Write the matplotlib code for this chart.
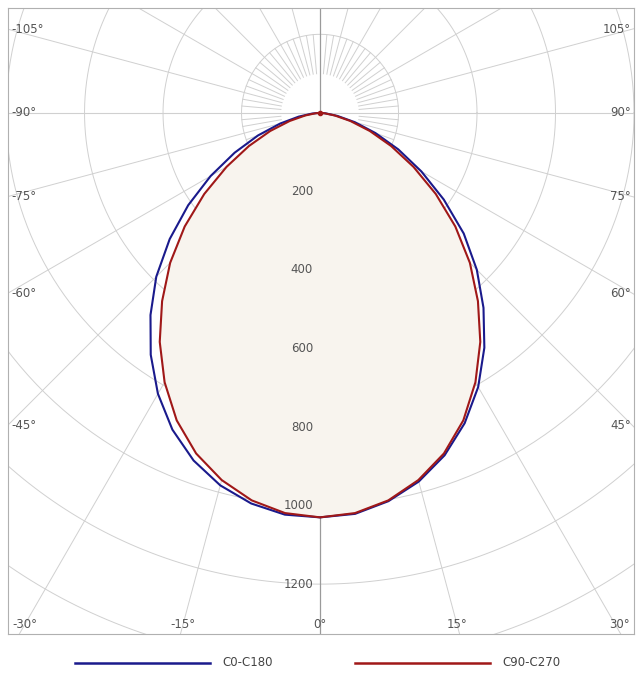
import numpy as np
import matplotlib
matplotlib.use("Agg")
import matplotlib.pyplot as plt

# luminous intensity (cd) vs angle from nadir (deg)
angles = [0, 5, 10, 15, 20, 25, 30, 35, 40, 45, 50, 55, 60, 65, 70, 75, 80, 85, 90]
c0_left = [1030, 1027, 1010, 982, 942, 890, 826, 752, 672, 590, 500, 410, 322, 240, 168, 105, 55, 20, 0]
c0_right = [1030, 1025, 1004, 972, 928, 872, 806, 730, 648, 565, 478, 385, 298, 220, 150, 92, 45, 14, 0]
c90 = [1030, 1023, 1002, 968, 923, 864, 792, 712, 626, 540, 450, 360, 275, 200, 135, 80, 38, 11, 0]
ring_values = [200, 400, 600, 800, 1000, 1200]
angle_ticks = [-105, -90, -75, -60, -45, -30, -15, 0, 15, 30, 45, 60, 75, 90, 105]

GRID = "#d0d0d0"
FILL = "#f8f4ee"
TXT = "#555555"


def xy(a_deg, r):
    a = np.radians(a_deg)
    return r * np.sin(a), -r * np.cos(a)


fig = plt.figure(figsize=(6.42, 6.89), dpi=100)
ax = fig.add_axes([8 / 642, 55 / 689, 626 / 642, 626 / 689])
x0, x1 = -795, 800
y0, y1 = -1327, 267
ax.set_xlim(x0, x1)
ax.set_ylim(y0, y1)
ax.set_xticks([])
ax.set_yticks([])
for s in ax.spines.values():
    s.set_color("#b0b0b0")

# rings
t = np.linspace(0, 2 * np.pi, 400)
for r in range(200, 2400, 200):
    ax.plot(r * np.cos(t), r * np.sin(t), color=GRID, lw=0.7, zorder=1)
# spokes
for a in range(0, 360, 15):
    xs, ys = xy(a, 100)
    xe, ye = xy(a, 3000)
    ax.plot([xs, xe], [ys, ye], color=GRID, lw=0.7, zorder=1)
for a in range(0, 360, 5):
    if a % 15:
        xs, ys = xy(a, 100)
        xe, ye = xy(a, 200)
        ax.plot([xs, xe], [ys, ye], color=GRID, lw=0.7, zorder=1)
ax.plot([0, 0], [y0, y1], color="#9a9a9a", lw=0.9, zorder=1)
ax.plot([x0, x1], [0, 0], color=GRID, lw=0.8, zorder=1)

# curves
ang_full = [-a for a in angles[::-1]] + angles[1:]
c0_full = c0_left[::-1] + c0_right[1:]
c90_full = c90[::-1] + c90[1:]
bx, by = xy(np.array(ang_full), np.array(c0_full))
rx, ry = xy(np.array(ang_full), np.array(c90_full))
ax.fill(rx, ry, color=FILL, zorder=2)
ax.plot(bx, by, color="#1a1a8c", lw=1.5, zorder=4)
ax.plot(rx, ry, color="#a01818", lw=1.5, zorder=5)
ax.plot(0, 0, "o", color="#a01818", ms=3, zorder=6)

# ring labels
for v in ring_values:
    ax.text(-18, -v, str(v), ha="right", va="center", fontsize=8.5,
            color=TXT, zorder=7)

# angle labels where spokes hit the frame
for a in angle_ticks:
    if abs(a) <= 30:
        y = y0 + 25
        x = -y * np.tan(np.radians(a))
        ha = "center"
        if a == -30:
            x, ha = x0 + 10, "left"
        if a == 30:
            x, ha = x1 - 10, "right"
        ax.text(x, y, f"{a}°", ha=ha, va="center", fontsize=8.5, color=TXT)
    else:
        y = -(x1 - 5) / np.tan(np.radians(abs(a)))
        if a < 0:
            ax.text(x0 + 8, y, f"{a}°", ha="left", va="center", fontsize=8.5, color=TXT)
        else:
            ax.text(x1 - 8, y, f"{a}°", ha="right", va="center", fontsize=8.5, color=TXT)

# legend
fig.lines.append(plt.Line2D([75 / 642, 210 / 642], [26 / 689, 26 / 689],
                            color="#1a1a8c", lw=1.8, transform=fig.transFigure))
fig.lines.append(plt.Line2D([355 / 642, 490 / 642], [26 / 689, 26 / 689],
                            color="#a01818", lw=1.8, transform=fig.transFigure))
fig.text(222 / 642, 26 / 689, "C0-C180", ha="left", va="center", fontsize=8.5, color="#444444")
fig.text(502 / 642, 26 / 689, "C90-C270", ha="left", va="center", fontsize=8.5, color="#444444")

fig.savefig("out.png", dpi=100)
